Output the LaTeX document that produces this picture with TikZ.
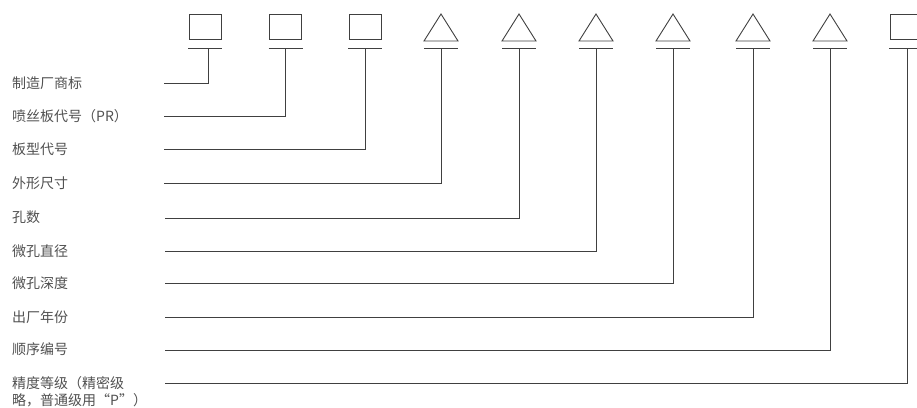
\documentclass[tikz,border=0pt]{standalone}
\usepackage{fontspec}
\newfontfamily\cjk{Noto Sans CJK SC}
\definecolor{ln}{HTML}{404040}
\definecolor{tx}{HTML}{505050}
\tikzset{
  ln/.style={draw=ln, line width=0.9pt},
  boxsym/.style={ln, rectangle, minimum width=32pt, minimum height=25pt, inner sep=0pt},
  lab/.style={anchor=west, inner sep=0pt, text=tx, font=\cjk\fontsize{14}{17}\selectfont, align=left}
}
\begin{document}
\begin{tikzpicture}[x=1pt, y=-1pt]
\useasboundingbox (0,0) rectangle (917,407);
% square symbols
\node[boxsym] (s1) at (205,26.5) {};
\node[boxsym] (s2) at (285.5,26.5) {};
\node[boxsym] (s3) at (365,26.5) {};
\node[boxsym] (s10) at (906,26.5) {};
% bars under symbols
\foreach \x in {205, 285.5, 365, 441, 519, 596, 673, 753, 830, 906} {
  \draw[ln] (\x-17,48) -- (\x+17,48);
}
% connection points on the bars
\coordinate (b1) at (208,48);
\coordinate (b2) at (285,48);
\coordinate (b3) at (365,48);
\coordinate (b4) at (441,48);
\coordinate (b5) at (519,48);
\coordinate (b6) at (596,48);
\coordinate (b7) at (673,48);
\coordinate (b8) at (753,48);
\coordinate (b9) at (830,48);
\coordinate (b10) at (907,48);
% triangle symbols
\foreach \x in {441, 519, 596, 673, 753, 830} {
  \draw[ln, line join=miter] (\x-17,41) -- (\x,14) -- (\x+17,41) -- cycle;
}
% labels
\node[lab] (l1) at (12,83) {制造厂商标};
\node[lab] (l2) at (12,116) {喷丝板代号（PR）};
\node[lab] (l3) at (12,149) {板型代号};
\node[lab] (l4) at (12,183) {外形尺寸};
\node[lab] (l5) at (12,217) {孔数};
\node[lab] (l6) at (12,251) {微孔直径};
\node[lab] (l7) at (12,283) {微孔深度};
\node[lab] (l8) at (12,317) {出厂年份};
\node[lab] (l9) at (12,349) {顺序编号};
\node[lab] (l10) at (12,391.5) {精度等级（精密级\\略，普通级用“P”）};
% free ends of the leader lines
\coordinate (e1) at (164,83);
\coordinate (e2) at (164,116);
\coordinate (e3) at (164,149);
\coordinate (e4) at (164,183);
\coordinate (e5) at (165,218);
\coordinate (e6) at (165,251);
\coordinate (e7) at (165,283);
\coordinate (e8) at (165,317);
\coordinate (e9) at (165,350);
\coordinate (e10) at (165,383);
% connectors
\foreach \i in {1,...,10} {
  \draw[ln] (b\i) |- (e\i);
}
\end{tikzpicture}
\end{document}
